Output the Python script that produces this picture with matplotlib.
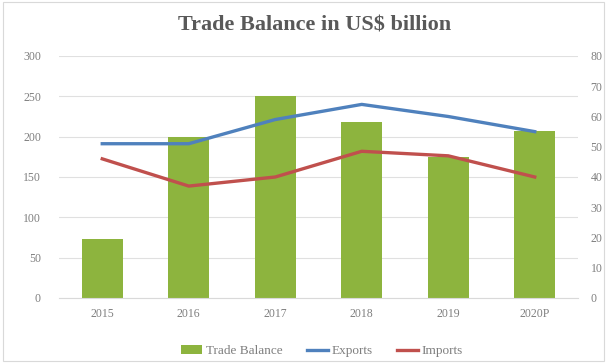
import matplotlib.pyplot as plt
from matplotlib.patches import Rectangle

years = ["2015", "2016", "2017", "2018", "2019", "2020P"]
trade_balance = [73, 200, 251, 218, 175, 207]
exports = [51, 51, 59, 64, 60, 55]
imports = [46, 37, 40, 48.5, 47, 40]

plt.rcParams['font.family'] = ['Liberation Serif', 'DejaVu Serif']
grey = "#7f7f7f"

fig = plt.figure(figsize=(6.09, 3.63), dpi=100)
ax = fig.add_axes([59 / 609, 1 - 298 / 363, (578 - 59) / 609, (298 - 56) / 363])
ax2 = ax.twinx()

x = range(len(years))
ax.bar(x, trade_balance, width=0.47, color="#8db43e", label="Trade Balance", zorder=2)
ax2.plot(x, exports, color="#4f81bd", lw=2.4, label="Exports")
ax2.plot(x, imports, color="#c0504d", lw=2.4, label="Imports")

ax.set_xlim(-0.5, len(years) - 0.5)
ax.set_ylim(0, 300)
ax.set_yticks(range(0, 301, 50))
ax2.set_ylim(0, 80)
ax2.set_yticks(range(0, 81, 10))
ax.set_xticks(list(x))
ax.set_xticklabels(years)

ax.grid(axis="y", color="#e0e0e0", lw=0.8, zorder=0)
ax.set_axisbelow(True)
for a in (ax, ax2):
    for s in a.spines.values():
        s.set_visible(False)
    a.tick_params(length=0, labelsize=8.5, colors=grey)
ax.spines["bottom"].set_visible(True)
ax.spines["bottom"].set_color("#d9d9d9")
ax.tick_params(axis="y", pad=13)
ax2.tick_params(axis="y", pad=9)
ax.tick_params(axis="x", pad=7)

fig.text(315 / 609, 1 - 25 / 363, "Trade Balance in US$ billion", ha="center", va="center",
         fontsize=16, fontweight="bold", color="#595959")

h1, l1 = ax.get_legend_handles_labels()
h2, l2 = ax2.get_legend_handles_labels()
fig.legend(h1 + h2, l1 + l2, loc="center", bbox_to_anchor=(322 / 609, 1 - 351 / 363), ncol=3,
           frameon=False, fontsize=9.5, labelcolor=grey, handlelength=1.6,
           handletextpad=0.3, columnspacing=1.8)

fig.patches.append(Rectangle((3 / 609, 0.005), 1 - 8 / 609, 0.99, transform=fig.transFigure,
                             fill=False, edgecolor="#d9d9d9", lw=0.8))

fig.savefig("out.png", dpi=100, facecolor="white")
